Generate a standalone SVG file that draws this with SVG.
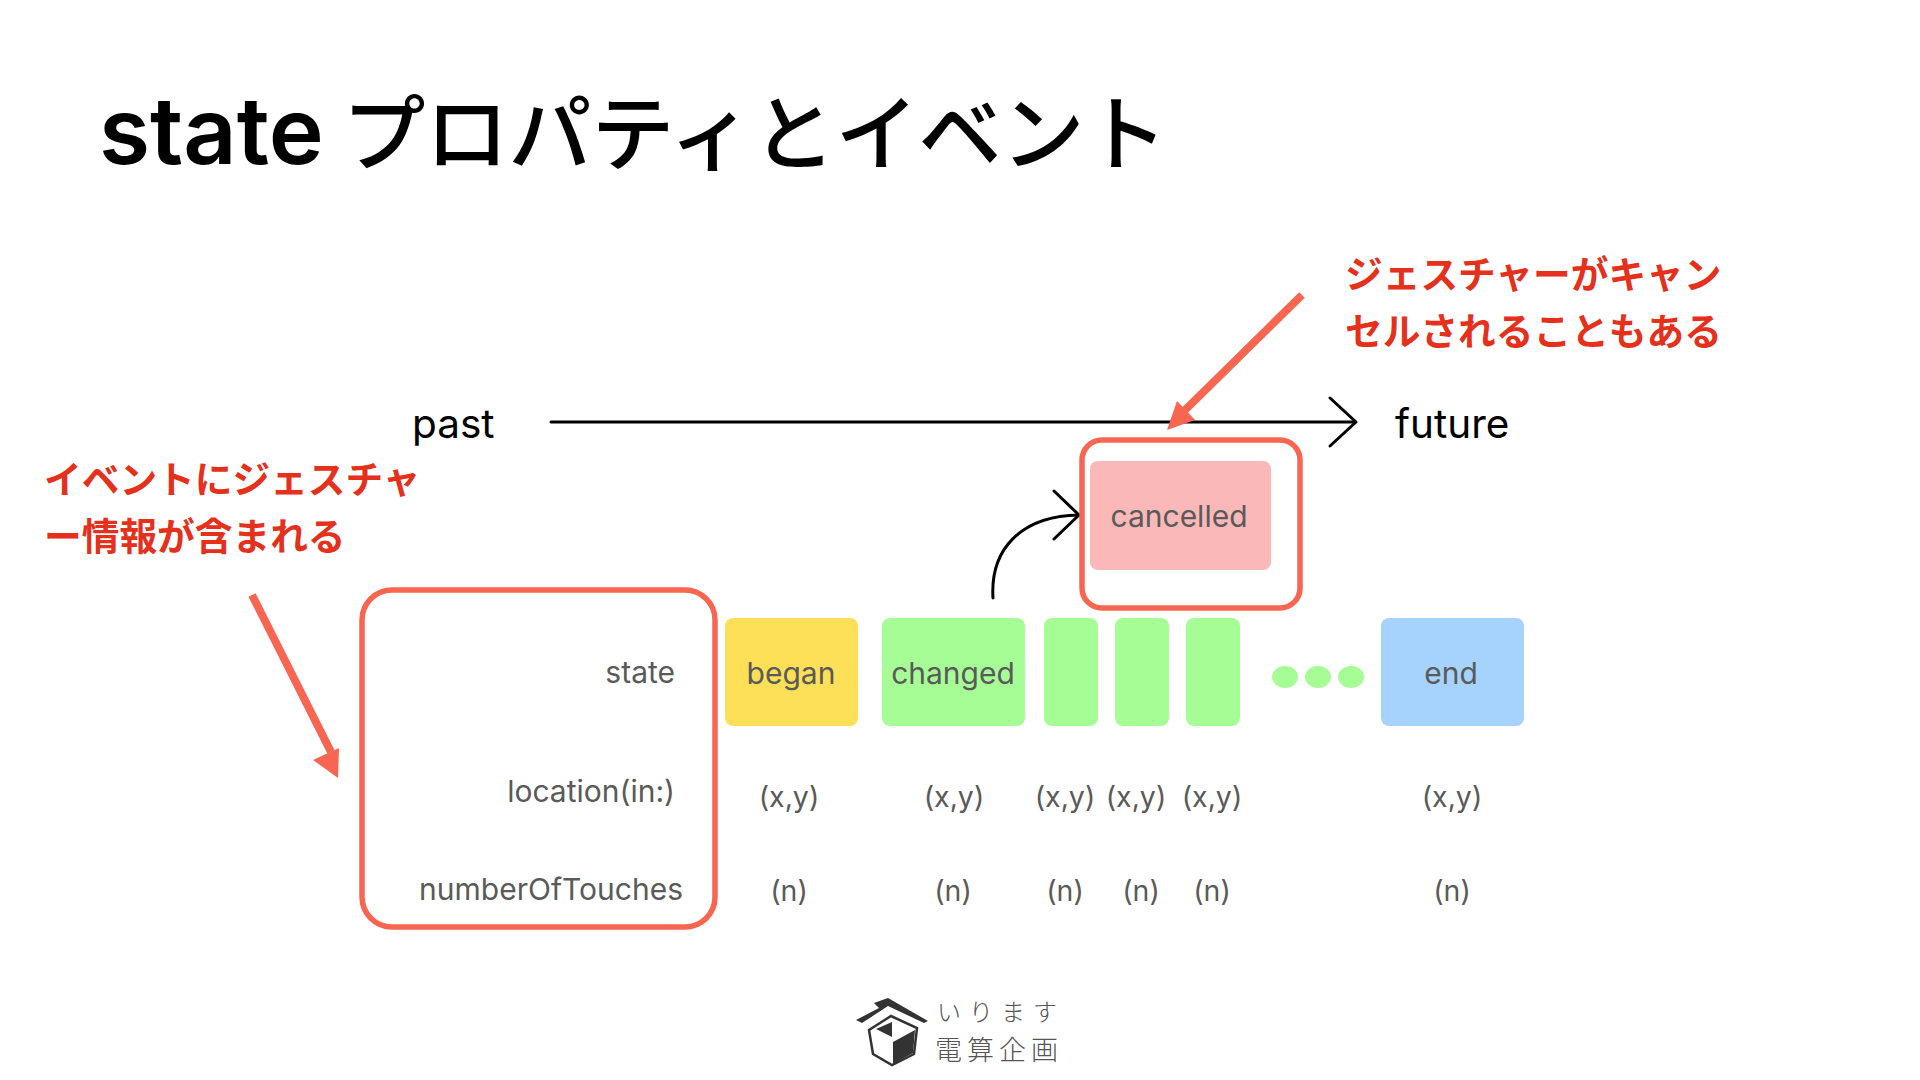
<svg xmlns="http://www.w3.org/2000/svg" width="1920" height="1080" viewBox="0 0 1920 1080">
<defs><style>
.h{font-family:"Noto Sans CJK JP",sans-serif;font-weight:500;font-size:83px;fill:#000}
.hl{font-family:"Inter",sans-serif;font-weight:600;font-size:93px}
.l{font-family:"Inter","Noto Sans",sans-serif;font-size:30px;fill:#5a5a5a}
.v{font-family:"Inter","Noto Sans",sans-serif;font-size:28.5px;fill:#5a5a5a}
.big{font-family:"Inter",sans-serif;font-size:40.5px;fill:#000}
.r{font-family:"Noto Sans CJK JP",sans-serif;font-weight:700;font-size:37.7px;fill:#e5301c}
.frame{fill:none;stroke:#f86651;stroke-width:5.5}
.red{stroke:#f86651;stroke-width:8;fill:none}
.blk{stroke:#000;stroke-width:3;fill:none;stroke-linecap:round;stroke-linejoin:round}
.g{fill:#a7fd95}
.lg1{font-family:"Noto Sans CJK JP",sans-serif;fill:#555;font-size:24px;font-weight:300;letter-spacing:8px}
.lg2{font-family:"Noto Sans CJK JP",sans-serif;fill:#555;font-size:27px;font-weight:300;letter-spacing:5px}
</style></defs>
<rect width="1920" height="1080" fill="#fff"/>
<g id="title"><text class="h" x="99" y="164"><tspan class="hl">state</tspan> プロパティとイベント</text></g>
<g id="timeline">
<text class="big" x="412" y="438">past</text>
<text class="big" x="1395" y="438">future</text>
</g>
<g id="connectors">
<path class="blk" d="M551 422H1355"/>
<path class="blk" d="M1330 398L1356 422L1330 446"/>
<path class="blk" d="M993 598C990 550 1020 516 1079 515"/>
<path class="blk" d="M1054 491L1079 515L1054 539"/>
<path class="red" d="M1302 295L1182 413"/>
<polygon points="1167,430 1177,401 1195,420" fill="#f86651"/>
<path class="red" d="M252 595L331 752"/>
<polygon points="338,778 313,760 339,748" fill="#f86651"/>
</g>
<g id="cancelled-frame"><rect class="frame" x="1082" y="440" width="218" height="168" rx="20"/></g>
<g id="cancelled"><rect x="1090" y="461" width="181" height="109" rx="8" fill="#fbb8b8"/><text class="l" x="1179" y="527" text-anchor="middle">cancelled</text></g>
<g id="labels-frame"><rect class="frame" x="362" y="590" width="353" height="337" rx="30"/></g>
<g id="row-labels">
<text class="l" x="675" y="683" text-anchor="end">state</text>
<text class="l" x="675" y="802" text-anchor="end">location(in:)</text>
<text class="l" x="683" y="900" text-anchor="end">numberOfTouches</text>
</g>
<g id="began"><rect x="725" y="618" width="133" height="108" rx="8" fill="#fddf58"/><text class="l" x="791" y="684" text-anchor="middle">began</text></g>
<g id="changed"><rect x="882" y="618" width="143" height="108" rx="8" class="g"/><text class="l" x="953" y="684" text-anchor="middle">changed</text></g>
<g id="s1"><rect x="1044" y="618" width="54" height="108" rx="8" class="g"/></g>
<g id="s2"><rect x="1115" y="618" width="54" height="108" rx="8" class="g"/></g>
<g id="s3"><rect x="1186" y="618" width="54" height="108" rx="8" class="g"/></g>
<g id="dots"><ellipse class="g" cx="1285" cy="677" rx="13" ry="11"/><ellipse class="g" cx="1318" cy="677" rx="13" ry="11"/><ellipse class="g" cx="1351" cy="677" rx="13" ry="11"/></g>
<g id="end"><rect x="1381" y="618" width="143" height="108" rx="8" fill="#a6d3fd"/><text class="l" x="1451" y="684" text-anchor="middle">end</text></g>
<g id="values">
<text class="v" x="789" y="807" text-anchor="middle">(x,y)</text>
<text class="v" x="954" y="807" text-anchor="middle">(x,y)</text>
<text class="v" x="1065" y="807" text-anchor="middle">(x,y)</text>
<text class="v" x="1136" y="807" text-anchor="middle">(x,y)</text>
<text class="v" x="1212" y="807" text-anchor="middle">(x,y)</text>
<text class="v" x="1452" y="807" text-anchor="middle">(x,y)</text>
<text class="v" x="789" y="901" text-anchor="middle">(n)</text>
<text class="v" x="953" y="901" text-anchor="middle">(n)</text>
<text class="v" x="1065" y="901" text-anchor="middle">(n)</text>
<text class="v" x="1141" y="901" text-anchor="middle">(n)</text>
<text class="v" x="1212" y="901" text-anchor="middle">(n)</text>
<text class="v" x="1452" y="901" text-anchor="middle">(n)</text>
</g>
<g id="note-cancel"><text class="r" x="1345" y="288">ジェスチャーがキャン</text><text class="r" x="1345" y="345">セルされることもある</text></g>
<g id="note-event"><text class="r" x="44" y="493">イベントにジェスチャ</text><text class="r" x="44" y="550">ー情報が含まれる</text></g>
<g id="logo">
<path d="M856 1020L879 1008L874 1003L888 998L928 1021L924 1023L888 1006L862 1023Z" fill="#333"/>
<path d="M869 1030L891 1016L917 1028L914 1054L892 1065L873 1054Z" fill="#fff" stroke="#333" stroke-width="2.5"/>
<path d="M893 1042L915 1030L913 1053L893 1064Z" fill="#333"/>
<path d="M876 1029L892 1022V1037Z" fill="#333"/>
<text class="lg1" x="937" y="1021">いります</text>
<text class="lg2" x="935" y="1059.5">電算企画</text>
</g>
</svg>
